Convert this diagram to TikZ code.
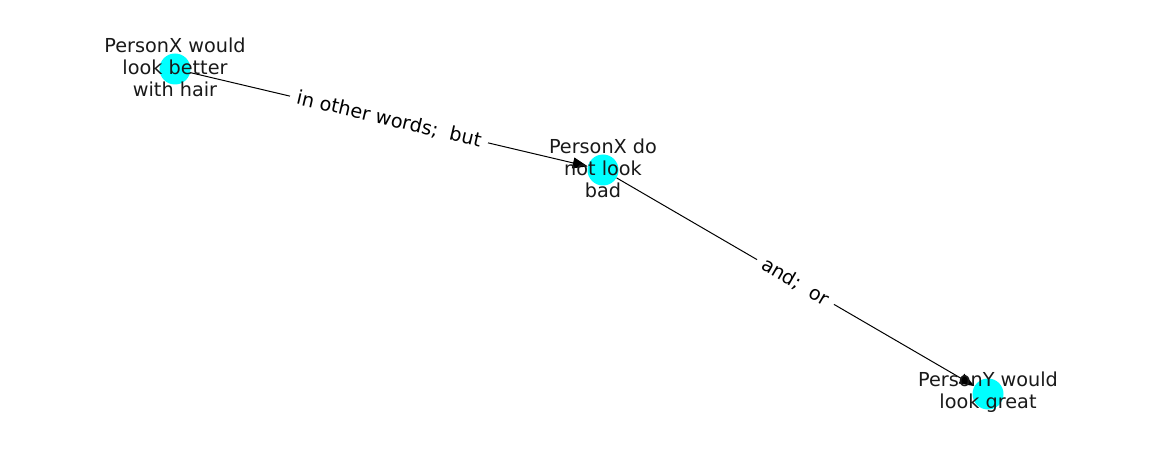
\documentclass[tikz,border=0pt]{standalone}
\usepackage{fontspec}
\setmainfont{DejaVu Sans}
\usepackage{tikz}
\usetikzlibrary{arrows.meta,positioning}
\definecolor{nodecyan}{RGB}{0,255,255}
\tikzset{
  person/.style={circle,fill=nodecyan,draw=none,minimum size=31pt,inner sep=0pt},
  persontext/.style={align=center,inner sep=0pt,text=black!90,
    font=\fontsize{19.25}{22.1}\selectfont},
  relation/.style={fill=white,inner xsep=7pt,inner ysep=2pt,sloped,midway,
    font=\fontsize{19.25}{22.1}\selectfont},
  link/.style={line width=1pt,-{Triangle[length=15pt,width=11pt]}}
}
\begin{document}
\begin{tikzpicture}[x=1pt,y=-1pt]
\useasboundingbox (0,0) rectangle (1162,462);
% the three statements
\node[person] (hair) at (175,69) {};
\node[person] (bad) at (603,170) {};
\node[person] (great) at (988,394) {};
% links between them
\draw[link] (hair) -- (bad) node[relation] {in other words;\ \ but};
\draw[link] (bad) -- (great) node[relation] {and;\ \ or};
% texts on top
\node[persontext] (hairtext) at ([yshift=1.5pt]hair) {PersonX would\\look better\\with hair};
\node[persontext] (badtext) at ([yshift=1.5pt]bad) {PersonX do\\not look\\bad};
\node[persontext] (greattext) at ([yshift=1.5pt]great) {PersonY would\\look great};
\end{tikzpicture}
\end{document}
